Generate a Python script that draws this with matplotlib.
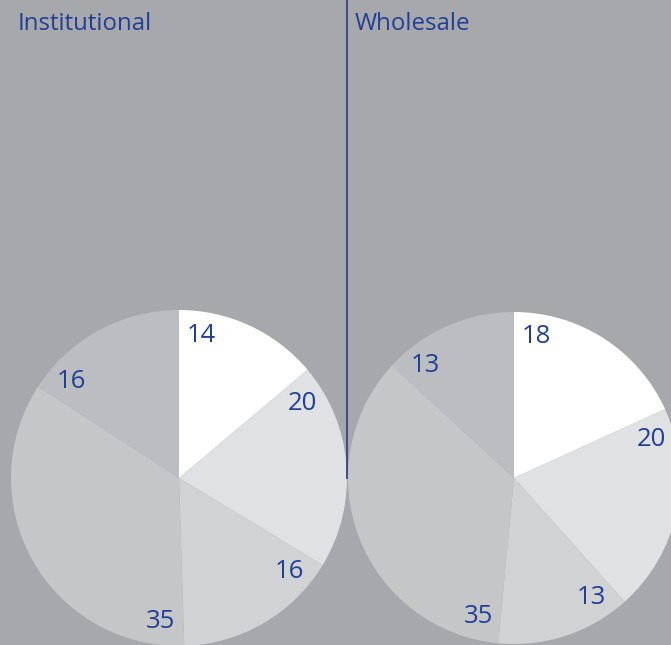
import numpy as np
import matplotlib
matplotlib.use("Agg")
from matplotlib import pyplot as plt

# data
groups = ["Institutional", "Wholesale"]
institutional = [14, 20, 16, 35, 16]
wholesale = [18, 20, 13, 35, 13]

slice_colors = ["#ffffff", "#e0e1e3", "#d1d2d4", "#c5c6c8", "#bcbdc0"]
bg = "#a7a8ab"
navy = "#213f96"

W, H = 671, 645
fig = plt.figure(figsize=(W / 100, H / 100), dpi=100)
fig.patch.set_facecolor(bg)
ax = fig.add_axes([0, 0, 1, 1])

centers = [(179, H - 478), (514, H - 478)]
radii = [168, 166]


def draw_pie(values, center, R):
    ax.pie(values, colors=slice_colors, startangle=90, counterclock=False,
           center=center, radius=R, wedgeprops=dict(linewidth=0),
           frame=True)
    total = float(sum(values))
    start = 90.0
    for v in values:
        ang = np.deg2rad(start - 9)
        x = center[0] + 0.86 * R * np.cos(ang)
        y = center[1] + 0.86 * R * np.sin(ang)
        ax.text(x, y, str(v), ha="center", va="center", fontsize=18.5,
                color=navy, family=["Open Sans", "DejaVu Sans"])
        start -= v / total * 360


draw_pie(institutional, centers[0], radii[0])
draw_pie(wholesale, centers[1], radii[1])
ax.set_xlim(0, W)
ax.set_ylim(0, H)
ax.set_aspect("equal")
ax.axis("off")

# divider
ax.plot([347, 347], [H, centers[0][1]], color="#34467f", linewidth=1.3)

ax.text(18, H - 30, groups[0], fontsize=17.3, color=navy, va="baseline",
        family=["Open Sans", "DejaVu Sans"])
ax.text(355, H - 30, groups[1], fontsize=17.3, color=navy, va="baseline",
        family=["Open Sans", "DejaVu Sans"])

fig.savefig("out.png", dpi=100, facecolor=bg)
